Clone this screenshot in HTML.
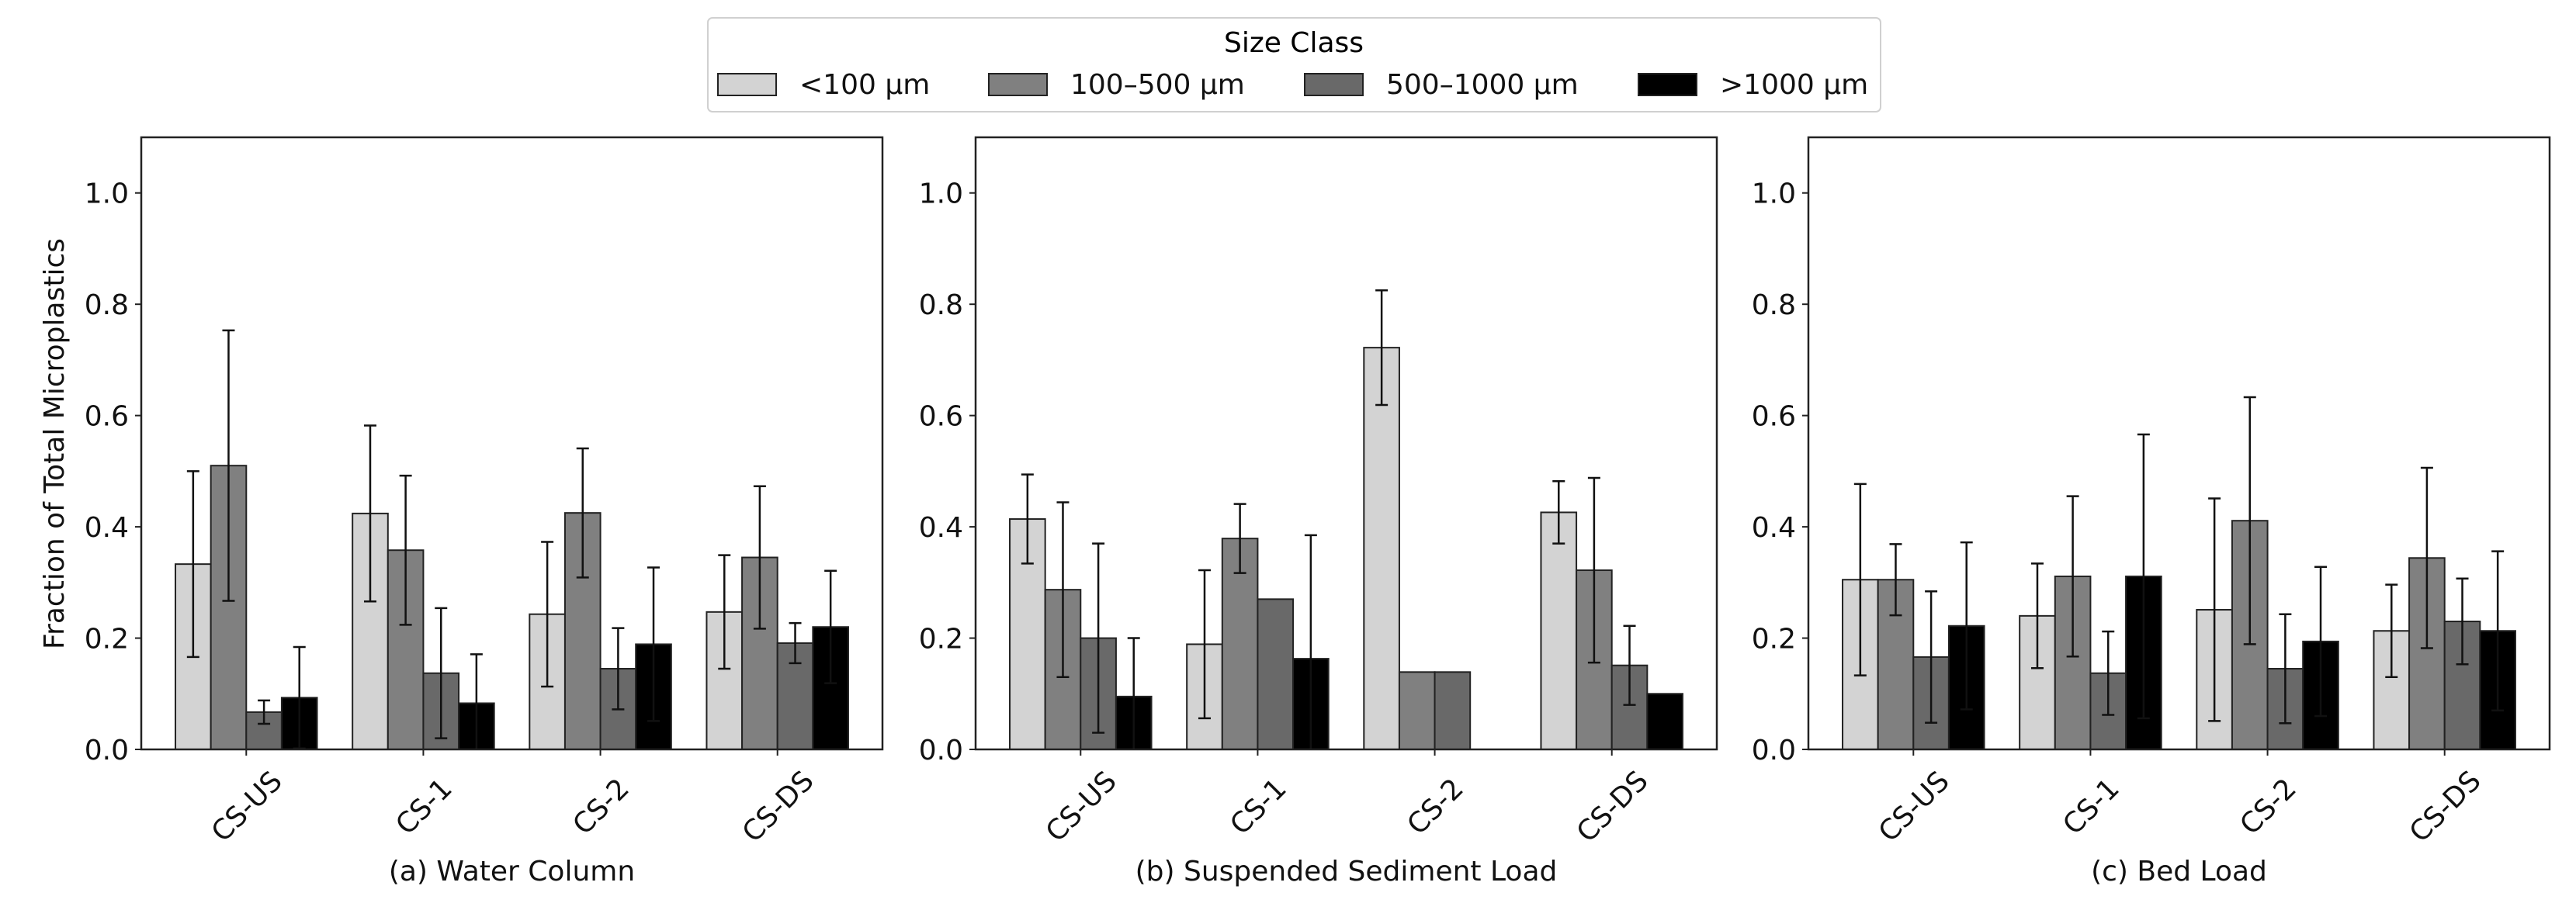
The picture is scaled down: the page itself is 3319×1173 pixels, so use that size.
<!DOCTYPE html>
<html><head><meta charset="utf-8"><style>
html,body{margin:0;padding:0;background:#fff;}
svg{display:block;font-family:"DejaVu Sans","Liberation Sans",sans-serif;}
</style></head><body>
<svg id="chart" width="3319" height="1173" viewBox="0 0 3319 1173" xmlns="http://www.w3.org/2000/svg">
<g id="legend">
<rect x="912" y="23" width="1511" height="121" rx="6" fill="#fff" stroke="#d0d0d0" stroke-width="2"/>
<text x="1667" y="67" font-size="36" text-anchor="middle">Size Class</text>
</g>
</svg>
<script>
const categories = ["CS-US","CS-1","CS-2","CS-DS"];
const seriesNames = ["<100 µm","100–500 µm","500–1000 µm",">1000 µm"];
const panelTitles = ["(a) Water Column","(b) Suspended Sediment Load","(c) Bed Load"];
const yTicks = [0.0,0.2,0.4,0.6,0.8,1.0];
// values[series][category]
const waterVals = [[0.333,0.424,0.243,0.247],[0.51,0.358,0.425,0.345],[0.067,0.137,0.145,0.191],[0.093,0.083,0.189,0.220]];
const waterErr  = [[0.167,0.158,0.130,0.102],[0.243,0.134,0.116,0.128],[0.021,0.117,0.073,0.036],[0.091,0.088,0.138,0.101]];
const suspVals  = [[0.414,0.189,0.722,0.426],[0.287,0.379,0.139,0.322],[0.200,0.270,0.139,0.151],[0.095,0.163,0.0,0.100]];
const suspErr   = [[0.080,0.133,0.103,0.056],[0.157,0.062,0,0.166],[0.170,0,0,0.071],[0.105,0.222,0,0]];
const bedVals   = [[0.305,0.240,0.251,0.213],[0.305,0.311,0.411,0.344],[0.166,0.137,0.145,0.230],[0.222,0.311,0.194,0.213]];
const bedErr    = [[0.172,0.094,0.200,0.083],[0.064,0.144,0.222,0.162],[0.118,0.075,0.098,0.077],[0.150,0.255,0.134,0.143]];

const allVals=[waterVals,suspVals,bedVals], allErr=[waterErr,suspErr,bedErr];
const colors=["#d3d3d3","#808080","#696969","#000000"];
const NS="http://www.w3.org/2000/svg";
const svg=document.getElementById('chart');
function mk(tag,attrs,parent){const e=document.createElementNS(NS,tag);for(const k in attrs)e.setAttribute(k,attrs[k]);(parent||svg).appendChild(e);return e;}
const panelLefts=[182,1257,2330], PW=955, TOP=177, BOT=966;
const yS=v=>BOT-(v/1.1)*(BOT-TOP);
const slugs=["water-column","suspended-sediment","bed-load"];
panelLefts.forEach((L,p)=>{
  const g=mk('g',{});
  
  
  const xS=c=>L+(c+0.593)/4.186*PW;
  const bw=0.2/4.186*PW;
  for(let s=0;s<4;s++){for(let c=0;c<4;c++){
    const v=allVals[p][s][c], e=allErr[p][s][c];
    const cx=xS(c)+(s-1.5)*bw;
    if(v>0){const r=mk('rect',{x:cx-bw/2,y:yS(v),width:bw,height:yS(0)-yS(v),fill:colors[s],stroke:'#222',"stroke-width":2},g);
    
    }
    if(e>0){const eg=mk('g',{stroke:'#111',"stroke-width":2.5},g);
      
      
      const lo=Math.max(0,v-e),hi=v+e;
      mk('line',{x1:cx,x2:cx,y1:yS(lo),y2:yS(hi)},eg);
      mk('line',{x1:cx-8,x2:cx+8,y1:yS(hi),y2:yS(hi)},eg);
      if(v-e>0) mk('line',{x1:cx-8,x2:cx+8,y1:yS(lo),y2:yS(lo)},eg);}
  }}
  const fr=mk('rect',{x:L,y:TOP,width:PW,height:BOT-TOP,fill:'none',stroke:'#222',"stroke-width":2.5},g);
  
  
  yTicks.forEach(t=>{
    mk('line',{x1:L-8,x2:L,y1:yS(t),y2:yS(t),stroke:'#222',"stroke-width":2},g);
    const tx=mk('text',{x:L-16,y:yS(t)+13,"font-size":36,"text-anchor":"end",fill:'#111'},g);
    tx.textContent=t.toFixed(1);
    
    
  });
  categories.forEach((c,i)=>{
    const x=xS(i);
    mk('line',{x1:x,x2:x,y1:BOT,y2:BOT+8,stroke:'#222',"stroke-width":2},g);
    const tx=mk('text',{x:x,y:1052,"font-size":36,"text-anchor":"middle",fill:'#111',transform:`rotate(-45 ${x} 1039)`},g);
    tx.textContent=c;
    
    
  });
  const st=mk('text',{x:L+PW/2,y:1135,"font-size":36,"text-anchor":"middle",fill:'#111'},g);
  st.textContent=panelTitles[p];
  
  
});
const yl=mk('text',{x:70,y:572,"font-size":36,"text-anchor":"middle",fill:'#111',transform:'rotate(-90 70 572)',dy:12});
yl.textContent="Fraction of Total Microplastics";


const lg=document.getElementById('legend');
const swX=[925,1274,1681,2111];
seriesNames.forEach((n,i)=>{
  const r=mk('rect',{x:swX[i],y:95,width:75,height:28,fill:colors[i],stroke:'#222',"stroke-width":2},lg);
  
  
  const t=mk('text',{x:swX[i]+105,y:121,"font-size":36,fill:'#111'},lg);
  t.textContent=n;
  
  
});
</script>
</body></html>
